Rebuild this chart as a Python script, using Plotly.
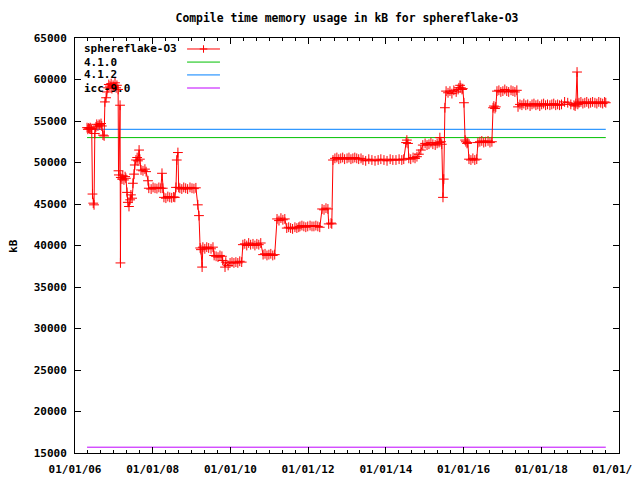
import pandas as pd
import plotly.graph_objects as go

# ---- data (decimal years, kB) ----
year_pts = [
    2006.31, 2006.33, 2006.35, 2006.37, 2006.39, 2006.41, 2006.43, 2006.45, 2006.47, 2006.49,
    2006.51, 2006.54, 2006.56, 2006.59, 2006.62, 2006.64, 2006.67, 2006.69, 2006.72, 2006.75,
    2006.77, 2006.80, 2006.82, 2006.85, 2006.87, 2006.90, 2006.93, 2006.95, 2006.98, 2007.00,
    2007.03, 2007.06, 2007.08, 2007.11, 2007.12, 2007.13, 2007.16, 2007.17, 2007.18, 2007.21,
    2007.23, 2007.26, 2007.29, 2007.31, 2007.34, 2007.36, 2007.39, 2007.42, 2007.44, 2007.47,
    2007.49, 2007.52, 2007.54, 2007.57, 2007.60, 2007.62, 2007.65, 2007.67, 2007.70, 2007.75,
    2007.80, 2007.83, 2007.88, 2007.90, 2007.96, 2008.01, 2008.06, 2008.11, 2008.16, 2008.21,
    2008.24, 2008.26, 2008.29, 2008.34, 2008.39, 2008.44, 2008.49, 2008.54, 2008.57, 2008.60,
    2008.62, 2008.65, 2008.67, 2008.70, 2008.75, 2008.80, 2008.85, 2008.90, 2008.96, 2009.01,
    2009.06, 2009.11, 2009.16, 2009.19, 2009.22, 2009.24, 2009.27, 2009.29, 2009.34, 2009.39,
    2009.44, 2009.50, 2009.55, 2009.58, 2009.63, 2009.68, 2009.73, 2009.78, 2009.80, 2009.86,
    2009.88, 2009.94, 2009.99, 2010.04, 2010.09, 2010.14, 2010.19, 2010.24, 2010.29, 2010.32,
    2010.37, 2010.42, 2010.47, 2010.52, 2010.58, 2010.63, 2010.68, 2010.73, 2010.78, 2010.84,
    2010.89, 2010.94, 2010.99, 2011.04, 2011.09, 2011.14, 2011.20, 2011.25, 2011.30, 2011.35,
    2011.40, 2011.45, 2011.50, 2011.55, 2011.60, 2011.66, 2011.71, 2011.76, 2011.79, 2011.84,
    2011.89, 2011.94, 2011.99, 2012.05, 2012.10, 2012.15, 2012.20, 2012.25, 2012.30, 2012.36,
    2012.41, 2012.46, 2012.51, 2012.53, 2012.59, 2012.61, 2012.64, 2012.69, 2012.74, 2012.79,
    2012.84, 2012.89, 2012.94, 2013.00, 2013.05, 2013.10, 2013.15, 2013.20, 2013.25, 2013.30,
    2013.36, 2013.41, 2013.48, 2013.56, 2013.64, 2013.72, 2013.80, 2013.87, 2013.95, 2014.03,
    2014.11, 2014.18, 2014.26, 2014.34, 2014.41, 2014.46, 2014.52, 2014.54, 2014.57, 2014.59,
    2014.64, 2014.70, 2014.75, 2014.80, 2014.85, 2014.90, 2014.95, 2015.01, 2015.06, 2015.11,
    2015.16, 2015.21, 2015.27, 2015.32, 2015.37, 2015.39, 2015.42, 2015.44, 2015.47, 2015.49,
    2015.52, 2015.55, 2015.60, 2015.65, 2015.70, 2015.75, 2015.81, 2015.86, 2015.88, 2015.91,
    2015.93, 2015.96, 2015.98, 2016.01, 2016.04, 2016.06, 2016.09, 2016.11, 2016.14, 2016.19,
    2016.24, 2016.29, 2016.34, 2016.37, 2016.42, 2016.47, 2016.52, 2016.57, 2016.63, 2016.68,
    2016.73, 2016.76, 2016.78, 2016.81, 2016.83, 2016.86, 2016.91, 2016.96, 2017.01, 2017.06,
    2017.11, 2017.16, 2017.22, 2017.27, 2017.32, 2017.37, 2017.40, 2017.45, 2017.50, 2017.55,
    2017.60, 2017.65, 2017.71, 2017.76, 2017.81, 2017.86, 2017.91, 2017.96, 2018.01, 2018.06,
    2018.11, 2018.16, 2018.22, 2018.27, 2018.32, 2018.37, 2018.42, 2018.47, 2018.52, 2018.60,
    2018.68, 2018.76, 2018.84, 2018.87, 2018.89, 2018.92, 2018.94, 2018.97, 2019.02, 2019.07,
    2019.12, 2019.17, 2019.22, 2019.27, 2019.32, 2019.38, 2019.43, 2019.48, 2019.53, 2019.58,
    2019.63, 2019.66,
]
sphereflake_kb = [
    54200, 54000, 54150, 54050, 54200, 54100, 54000, 46200, 45100, 44900,
    53500, 54300, 54600, 54400, 54600, 54500, 54700, 54400, 53300, 53200,
    57300, 57800, 58500, 59000, 59400, 59200, 59500, 58900, 59300, 59100,
    59600, 59000, 59300, 58800, 49000, 48500, 56900, 37900, 48200, 48000,
    48400, 47900, 48300, 48100, 46400, 45200, 44700, 45500, 46100, 45700,
    47500, 48600, 49700, 50300, 50600, 50200, 51500, 50400, 49100, 49000,
    49200, 48900, 47800, 46900, 46800, 47000, 46900, 46850, 47000, 46900,
    48700, 46900, 45800, 45700, 45900, 45800, 45750, 45850, 45800, 47000,
    50300, 51200, 47000, 46900, 46800, 47000, 46900, 46800, 47000, 46900,
    46850, 46950, 44900, 43600, 39700, 39500, 37400, 39800, 39600, 39800,
    39700, 39600, 39800, 38800, 38700, 38600, 38800, 38700, 38200, 37400,
    38000, 37600, 37900, 38000, 37900, 38000, 37900, 38100, 38000, 40100,
    40200, 40000, 40300, 40100, 40200, 40000, 40200, 40100, 40300, 38900,
    39000, 38800, 38900, 39000, 38800, 38900, 43200, 43000, 43300, 43100,
    43200, 42100, 42200, 42100, 42000, 42200, 42100, 42200, 42300, 42400,
    42300, 42200, 42300, 42400, 42300, 42300, 42400, 42300, 42200, 44400,
    44300, 44500, 44400, 42600, 42700, 42600, 50300, 50500, 50600, 50400,
    50500, 50600, 50400, 50500, 50600, 50400, 50500, 50600, 50500, 50400,
    50500, 50300, 50200, 50400, 50300, 50200, 50300, 50400, 50300, 50200,
    50400, 50300, 50300, 50400, 50300, 50400, 52400, 52700, 52300, 50500,
    50400, 50600, 50500, 50700, 51000, 51500, 52100, 52300, 52100, 52200,
    52400, 52200, 52100, 52300, 52400, 53000, 52500, 52200, 45800, 48000,
    56600, 58600, 58400, 58600, 58300, 58700, 58500, 58800, 59000, 59300,
    59000, 58800, 58900, 57200, 52700, 52500, 52300, 52400, 50400, 50300,
    50500, 50300, 50400, 52400, 52500, 52600, 52400, 52500, 52600, 52400,
    52500, 56600, 56800, 56500, 56700, 58600, 58700, 58500, 58600, 58800,
    58600, 58500, 58700, 58600, 58500, 58700, 56700, 57000, 56900, 57100,
    56900, 57000, 56800, 57000, 57100, 56900, 57000, 56800, 57000, 57100,
    56900, 57000, 56900, 57000, 57100, 56900, 57000, 56900, 57000, 57300,
    57200, 57000, 56900, 56800, 57100, 60900, 57000, 57200, 57300, 57100,
    57200, 57300, 57100, 57200, 57300, 57200, 57100, 57300, 57200, 57100,
    57300, 57200,
]
ref_names = ["4.1.0", "4.1.2", "icc-9.0"]
ref_values = [53000, 54000, 15700]
ref_colors = ["#00c000", "#0080ff", "#c000ff"]
series_name = "sphereflake-O3"
y_ticks = [15000, 20000, 25000, 30000, 35000, 40000, 45000, 50000, 55000, 60000, 65000]


def to_date(y):
    yi = int(y)
    return pd.Timestamp(f"{yi}-01-01") + pd.Timedelta(days=(y - yi) * 365.25)


dates = [to_date(y) for y in year_pts]

FONT = dict(family="DejaVu Sans Mono", size=11, color="black", weight="bold")

fig = go.Figure()
for name, val, col in zip(ref_names, ref_values, ref_colors):
    fig.add_trace(go.Scatter(x=[dates[0], dates[-1]], y=[val, val], mode="lines",
                             line=dict(color=col, width=1), name=name, showlegend=False))
fig.add_trace(go.Scatter(x=dates, y=sphereflake_kb, mode="lines+markers", name=series_name,
                         line=dict(color="#ff0000", width=1),
                         marker=dict(symbol="cross-thin", size=7, color="#ff0000",
                                     line=dict(color="#ff0000", width=1)),
                         showlegend=False))

# manual gnuplot-style key (text left, sample right)
key_rows = [series_name] + ref_names
key_cols = ["#ff0000"] + ref_colors
row_y = [0.9735, 0.942, 0.911, 0.8795]
for txt, col, yy in zip(key_rows, key_cols, row_y):
    fig.add_annotation(x=0.013, y=yy, xref="paper", yref="paper", text=txt, showarrow=False,
                       xanchor="left", yanchor="middle", font=FONT)
    fig.add_shape(type="line", xref="paper", yref="paper", x0=0.206, x1=0.2665, y0=yy, y1=yy,
                  line=dict(color=col, width=1))
# cross marker in first sample
cx = (0.206 + 0.2665) / 2
fig.add_shape(type="line", xref="paper", yref="paper", x0=cx - 0.007, x1=cx + 0.007,
              y0=row_y[0], y1=row_y[0], line=dict(color="#ff0000", width=1))
fig.add_shape(type="line", xref="paper", yref="paper", x0=cx, x1=cx,
              y0=row_y[0] - 0.009, y1=row_y[0] + 0.009, line=dict(color="#ff0000", width=1))

fig.add_annotation(x=-0.112, y=0.499, xref="paper", yref="paper", text="kB", textangle=-90,
                   showarrow=False, font=FONT, xanchor="center", yanchor="middle")

# page body has an 8px margin: size the figure to fill the rest of the window
fig.update_layout(
    width=632, height=472,
    margin=dict(l=67, r=21, t=30, b=27, autoexpand=False),
    paper_bgcolor="white", plot_bgcolor="white",
    title=dict(text="Compile time memory usage in kB for sphereflake-O3",
               x=0.5, xref="paper", y=1 - 10 / 472, yref="container",
               xanchor="center", yanchor="middle", font=dict(FONT, size=11.4)),
    showlegend=False,
)
fig.update_xaxes(type="date", range=["2006-01-01", "2020-01-01 06:00"],
                 tick0="2006-01-01", dtick="M24", tickformat="%m/%d/%y",
                 ticks="inside", ticklen=6, tickcolor="black",
                 minor=dict(dtick="M4", tick0="2006-01-01", ticks="inside", ticklen=3,
                            tickcolor="black", showgrid=False),
                 showline=True, linecolor="black", linewidth=1, mirror="ticks",
                 showgrid=False, zeroline=False, tickfont=FONT, automargin=False,
                 ticklabelstandoff=6, ticklabeloverflow="allow")
fig.update_yaxes(range=[15000, 65000], tickvals=y_ticks, ticktext=[str(v) for v in y_ticks],
                 ticks="inside", ticklen=6, tickcolor="black",
                 showline=True, linecolor="black", linewidth=1, mirror="ticks",
                 showgrid=False, zeroline=False, tickfont=FONT, automargin=False,
                 ticklabelstandoff=5)

fig.write_html("out.html")
